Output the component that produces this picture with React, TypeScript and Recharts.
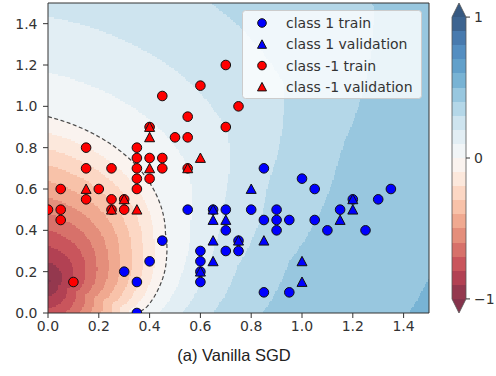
import React from 'react';
import { ScatterChart, Scatter, XAxis, YAxis, ReferenceArea, Legend } from 'recharts';

type Pt = [number, number];

// ---------------- data ----------------
const classOneTrain: Pt[] = [
  [0.55, 0.5], [0.65, 0.5], [0.7, 0.5], [0.7, 0.4], [0.45, 0.35], [0.75, 0.35], [0.6, 0.3], [0.7, 0.3],
  [0.75, 0.3], [0.4, 0.25], [0.6, 0.25], [0.3, 0.2], [0.6, 0.2], [0.35, 0.15], [0.6, 0.15], [0.35, 0.0],
  [0.85, 0.7], [1.0, 0.65], [1.05, 0.6], [1.35, 0.6], [1.2, 0.55], [1.3, 0.55], [0.8, 0.5], [0.9, 0.5],
  [1.15, 0.5], [0.85, 0.45], [0.9, 0.45], [0.95, 0.45], [1.05, 0.45], [0.9, 0.4], [1.1, 0.4], [1.25, 0.4],
  [0.85, 0.1], [0.95, 0.1],
];
const classOneValidation: Pt[] = [
  [0.65, 0.5], [0.65, 0.45], [0.7, 0.45], [0.65, 0.35], [0.75, 0.35], [0.65, 0.25], [0.6, 0.2], [0.8, 0.6],
  [1.2, 0.55], [1.2, 0.5], [1.15, 0.45], [0.85, 0.35], [1.0, 0.25], [1.0, 0.15],
];
const classMinusOneTrain: Pt[] = [
  [0.0, 0.5], [0.05, 0.6], [0.05, 0.5], [0.05, 0.45], [0.1, 0.15], [0.15, 0.8], [0.15, 0.7], [0.15, 0.55],
  [0.2, 0.6], [0.25, 0.7], [0.25, 0.55], [0.25, 0.5], [0.3, 0.55], [0.3, 0.5], [0.35, 0.8], [0.35, 0.75],
  [0.35, 0.7], [0.35, 0.65], [0.35, 0.6], [0.4, 0.9], [0.4, 0.75], [0.4, 0.65], [0.45, 1.05], [0.45, 0.75],
  [0.45, 0.7], [0.5, 0.85], [0.55, 0.95], [0.55, 0.85], [0.55, 0.7], [0.6, 1.1], [0.7, 1.2], [0.7, 0.9],
  [0.75, 1.0],
];
const classMinusOneValidation: Pt[] = [
  [0.4, 0.9], [0.4, 0.85], [0.6, 0.75], [0.4, 0.7], [0.55, 0.7], [0.15, 0.6], [0.3, 0.55], [0.25, 0.5],
  [0.35, 0.5],
];

const xTicks = [0, 0.2, 0.4, 0.6, 0.8, 1.0, 1.2, 1.4];
const yTicks = [0, 0.2, 0.4, 0.6, 0.8, 1.0, 1.2, 1.4];
const colorbarTicks = [-1, 0, 1];
const levelStep = 0.1;
const bandCount = 20; // levels -1 .. 1 every 0.1

// decision-function shape
const wellCenter: Pt = [0, 0.15];
const zeroRadiusByAngle: Pt[] = [
  [-90, 0.6], [-23, 0.385], [-17, 0.408], [-2.6, 0.44], [14.8, 0.483], [27, 0.519], [57.6, 0.659], [90, 0.8],
];
const outerScaleByAngle: Pt[] = [
  [-90, 0.7], [-10, 0.7], [6, 0.73], [30, 1.04], [46, 1.4], [64, 1.36], [90, 1.25],
];
const outerSaturation = 0.52;
const innerFloor = -1.02;

// ---------------- helpers ----------------
const RDBU = [
  [103, 0, 31], [178, 24, 43], [214, 96, 77], [244, 165, 130], [253, 219, 199], [247, 247, 247],
  [209, 229, 240], [146, 197, 222], [67, 147, 195], [33, 102, 172], [5, 48, 97],
];
function rdbu(t: number): string {
  const c = Math.max(0, Math.min(1, t)) * 10;
  const i = Math.min(9, Math.floor(c));
  const f = c - i;
  const a = RDBU[i], b = RDBU[i + 1];
  const ch = (k: number) => Math.round((a[k] + (b[k] - a[k]) * f) * 0.8 + 255 * 0.2);
  return `rgb(${ch(0)},${ch(1)},${ch(2)})`;
}
function bandColor(k: number): string {
  if (k < 0) return rdbu(0);
  if (k >= bandCount) return rdbu(1);
  return rdbu((k + 0.5) / bandCount);
}
function interp(table: Pt[], v: number): number {
  if (v <= table[0][0]) return table[0][1];
  for (let i = 1; i < table.length; i++) {
    if (v <= table[i][0]) {
      const [x0, y0] = table[i - 1];
      const [x1, y1] = table[i];
      return y0 + ((y1 - y0) * (v - x0)) / (x1 - x0);
    }
  }
  return table[table.length - 1][1];
}
function field(x: number, y: number): number {
  const dx = x - wellCenter[0];
  const dy = y - wellCenter[1];
  const r = Math.hypot(dx, dy);
  const theta = (Math.atan2(dy, dx) * 180) / Math.PI;
  const rho = r / interp(zeroRadiusByAngle, theta);
  if (rho <= 1) return innerFloor * (1 - rho);
  return outerSaturation * (1 - Math.exp(-(rho - 1) / interp(outerScaleByAngle, theta)));
}
function bandOf(v: number): number {
  if (v < -1) return -1;
  if (v >= 1) return bandCount;
  return Math.floor((v + 1) / levelStep + 1e-9);
}

type Run = { x1: number; x2: number; y1: number; y2: number; fill: string };
function buildRuns(): Run[] {
  const dx = 0.005, dy = 0.0075;
  const nx = Math.round(1.5 / dx), ny = Math.round(1.5 / dy);
  const runs: Run[] = [];
  for (let j = 0; j < ny; j++) {
    const yc = (j + 0.5) * dy;
    const y1 = j * dy;
    const y2 = j === ny - 1 ? 1.5 : Math.min(1.5, (j + 1.4) * dy);
    let start = 0;
    let cur = bandOf(field(0.5 * dx, yc));
    const push = (s: number, e: number, k: number) => {
      runs.push({ x1: s * dx, x2: e === nx ? 1.5 : Math.min(1.5, (e + 0.4) * dx), y1, y2, fill: bandColor(k) });
    };
    for (let i = 1; i < nx; i++) {
      const k = bandOf(field((i + 0.5) * dx, yc));
      if (k !== cur) {
        push(start, i, cur);
        start = i;
        cur = k;
      }
    }
    push(start, nx, cur);
  }
  return runs;
}
function zeroContour(): { x: number; y: number }[] {
  const pts: { x: number; y: number }[] = [];
  let prev: { x: number; y: number } | null = null;
  for (let a = 90; a >= -40; a -= 1) {
    const r0 = interp(zeroRadiusByAngle, a);
    const p = { x: wellCenter[0] + r0 * Math.cos((a * Math.PI) / 180), y: wellCenter[1] + r0 * Math.sin((a * Math.PI) / 180) };
    if (p.y < 0) {
      if (prev) {
        const t = prev.y / (prev.y - p.y);
        pts.push({ x: prev.x + (p.x - prev.x) * t, y: 0 });
      }
      break;
    }
    pts.push(p);
    prev = p;
  }
  return pts;
}

const toObjs = (a: Pt[]) => a.map(([x, y]) => ({ x, y }));
const backgroundRuns = buildRuns();
const zeroLine = zeroContour();

const BLUE = '#0000ff';
const RED = '#ff0000';
const EDGE = '#111111';

const circleShape = (fill: string) => (p: any) => (
  <circle cx={p.cx} cy={p.cy} r={4.8} fill={fill} stroke={EDGE} strokeWidth={1} />
);
const triangleShape = (fill: string) => (p: any) => (
  <path
    d={`M${p.cx},${p.cy - 5}L${p.cx + 5},${p.cy + 4.4}L${p.cx - 5},${p.cy + 4.4}Z`}
    fill={fill}
    stroke={EDGE}
    strokeWidth={1}
    strokeLinejoin="miter"
  />
);

const legendItems = [
  { name: 'class 1 train', color: BLUE, kind: 'circle' },
  { name: 'class 1 validation', color: BLUE, kind: 'triangle' },
  { name: 'class -1 train', color: RED, kind: 'circle' },
  { name: 'class -1 validation', color: RED, kind: 'triangle' },
];

const LegendBox = () => (
  <svg width={180} height={89} style={{ display: 'block' }}>
    <rect x={0.5} y={0.5} width={179} height={88} rx={3} ry={3} fill="rgba(255,255,255,0.8)" stroke="#cccccc" />
    {legendItems.map((it, i) => {
      const cy = 13 + i * 21.3;
      const cx = 20;
      return (
        <g key={it.name}>
          {it.kind === 'circle' ? (
            <circle cx={cx} cy={cy} r={4.3} fill={it.color} stroke={EDGE} strokeWidth={1} />
          ) : (
            <path d={`M${cx},${cy - 4.5}L${cx + 4.5},${cy + 4}L${cx - 4.5},${cy + 4}Z`} fill={it.color} stroke={EDGE} strokeWidth={1} />
          )}
          <text x={44} y={cy} dominantBaseline="central" fontFamily="DejaVu Sans" fontSize={14} fill="#333">
            {it.name}
          </text>
        </g>
      );
    })}
  </svg>
);

const tickFont = { fontFamily: 'DejaVu Sans', fontSize: 14, fill: '#333' };
const fmt = (v: number) => v.toFixed(1);
const cbFmt = (v: number) => (v < 0 ? '\u2212' + Math.abs(v) : String(v));

const cbBands = Array.from({ length: bandCount }, (_, k) => ({ lo: -1 + k * levelStep, hi: -1 + (k + 1) * levelStep, k }));

export default function App() {
  return (
    <div style={{ position: 'absolute', left: 0, top: 0, width: 496, height: 376, background: '#fff' }}>
      <div style={{ position: 'absolute', left: 0, top: 0 }}>
        <ScatterChart width={440} height={340} margin={{ top: 3, right: 11, bottom: 0, left: 0 }}>
          <XAxis
            type="number"
            dataKey="x"
            domain={[0, 1.5]}
            ticks={xTicks}
            interval={0}
            allowDataOverflow
            height={27}
            tickFormatter={fmt}
            tickSize={5}
            tickMargin={3}
            axisLine={false}
            tickLine={{ stroke: '#333' }}
            tick={tickFont}
          />
          <YAxis
            type="number"
            dataKey="y"
            domain={[0, 1.5]}
            ticks={yTicks}
            interval={0}
            allowDataOverflow
            width={48}
            tickFormatter={fmt}
            tickSize={5}
            tickMargin={5.5}
            axisLine={false}
            tickLine={{ stroke: '#333' }}
            tick={tickFont}
          />
          {backgroundRuns.map((r, i) => (
            <ReferenceArea
              key={i}
              x1={r.x1}
              x2={r.x2}
              y1={r.y1}
              y2={r.y2}
              fill={r.fill}
              stroke="none"
              shape={(p: any) => (
                <rect x={p.x} y={p.y} width={p.width} height={p.height} fill={r.fill} shapeRendering="crispEdges" />
              )}
            />
          ))}
          <Scatter
            name="decision boundary"
            data={zeroLine}
            line={{ stroke: '#4a4a4a', strokeWidth: 1.2, strokeDasharray: '4 2.5', fill: 'none' }}
            lineType="joint"
            shape={() => <g />}
            legendType="none"
            isAnimationActive={false}
          />
          <Scatter name="class 1 train" data={toObjs(classOneTrain)} fill={BLUE} shape={circleShape(BLUE)} isAnimationActive={false} />
          <Scatter name="class 1 validation" data={toObjs(classOneValidation)} fill={BLUE} shape={triangleShape(BLUE)} isAnimationActive={false} />
          <Scatter name="class -1 train" data={toObjs(classMinusOneTrain)} fill={RED} shape={circleShape(RED)} isAnimationActive={false} />
          <Scatter name="class -1 validation" data={toObjs(classMinusOneValidation)} fill={RED} shape={triangleShape(RED)} isAnimationActive={false} />
          <ReferenceArea x1={0} x2={1.5} y1={0} y2={1.5} fill="none" fillOpacity={0} stroke="#333" strokeWidth={1} />
          <Legend
            layout="vertical"
            align="center"
            verticalAlign="middle"
            content={() => <LegendBox />}
            wrapperStyle={{ left: 242, top: 10, width: 180, height: 89 }}
          />
        </ScatterChart>
      </div>
      <div style={{ position: 'absolute', left: 440, top: 0 }}>
        <ScatterChart width={56} height={340} margin={{ top: 3, right: 0, bottom: 27, left: 12 }}>
          <XAxis type="number" dataKey="x" domain={[0, 1]} hide allowDataOverflow />
          <YAxis
            type="number"
            dataKey="y"
            orientation="right"
            domain={[-1.1, 1.1]}
            ticks={colorbarTicks}
            interval={0}
            allowDataOverflow
            width={30}
            tickFormatter={cbFmt}
            tickSize={4}
            tickMargin={4}
            axisLine={false}
            tickLine={{ stroke: '#333' }}
            tick={tickFont}
          />
          {cbBands.map((b) => (
            <ReferenceArea
              key={b.k}
              x1={0}
              x2={1}
              y1={b.lo}
              y2={b.hi + (b.k < bandCount - 1 ? 0.004 : 0)}
              fill={bandColor(b.k)}
              stroke="none"
              shape={(p: any) => (
                <rect x={p.x} y={p.y} width={p.width} height={p.height} fill={bandColor(b.k)} shapeRendering="crispEdges" />
              )}
            />
          ))}
          <ReferenceArea
            x1={0}
            x2={1}
            y1={1}
            y2={1.1}
            shape={(p: any) => (
              <path d={`M${p.x},${p.y + p.height}L${p.x + p.width},${p.y + p.height}L${p.x + p.width / 2},${p.y}Z`} fill={bandColor(bandCount)} />
            )}
          />
          <ReferenceArea
            x1={0}
            x2={1}
            y1={-1.1}
            y2={-1}
            shape={(p: any) => (
              <path d={`M${p.x},${p.y}L${p.x + p.width},${p.y}L${p.x + p.width / 2},${p.y + p.height}Z`} fill={bandColor(-1)} />
            )}
          />
          <ReferenceArea
            x1={0}
            x2={1}
            y1={-1.1}
            y2={1.1}
            shape={(p: any) => {
              const t = (p.height * 0.1) / 2.2;
              const { x, y, width: w, height: h } = p;
              return (
                <path
                  d={`M${x + w / 2},${y}L${x + w},${y + t}L${x + w},${y + h - t}L${x + w / 2},${y + h}L${x},${y + h - t}L${x},${y + t}Z`}
                  fill="none"
                  stroke="#555"
                  strokeWidth={0.8}
                />
              );
            }}
          />
        </ScatterChart>
      </div>
      <div
        style={{
          position: 'absolute',
          left: 0,
          top: 345,
          width: 468,
          textAlign: 'center',
          fontFamily: 'Liberation Sans, Arial, sans-serif',
          fontSize: 16.5,
          lineHeight: '20px',
          color: '#222',
        }}
      >
        (a) Vanilla SGD
      </div>
    </div>
  );
}
